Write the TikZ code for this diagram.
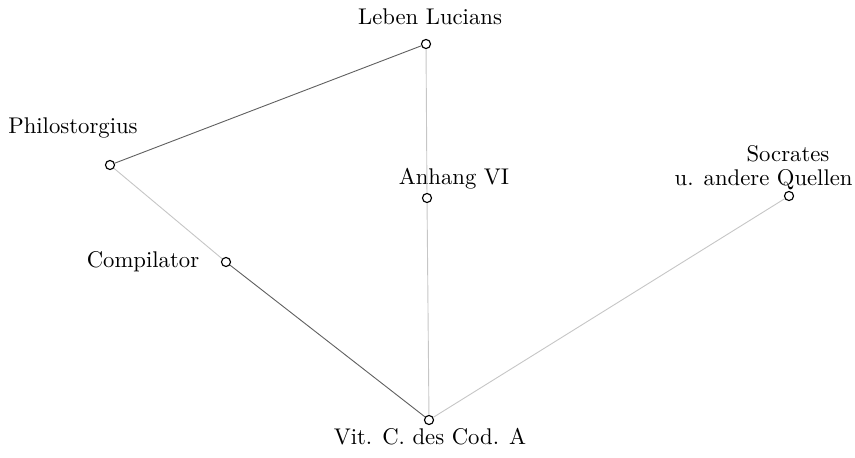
\documentclass[tikz,border=0pt]{standalone}
\usetikzlibrary{positioning}
\begin{document}
\begin{tikzpicture}[
  x=0.4406pt, y=-0.4406pt,
  src/.style={circle, draw, inner sep=0pt, minimum size=4pt, line width=0.5pt},
  lbl/.style={inner sep=0pt, font=\normalsize},
  link/.style={gray!75!black, line width=0.4pt},
  faint/.style={gray!45, line width=0.4pt}
]
\useasboundingbox (0,0) rectangle (855,457);

% sources
\node[src] (leben)  at (426,44)  {};
\node[src] (philo)  at (110,165) {};
\node[src] (anhang) at (427,198) {};
\node[src] (socr)   at (789,196) {};
\node[src] (comp)   at (226,262) {};
\node[src] (vit)    at (429,420) {};

% names
\node[lbl] (lebenLbl)  at (430,17)  {Leben Lucians};
\node[lbl] (philoLbl)  at (73,128)  {Philostorgius};
\node[lbl] (anhangLbl) at (454,179) {Anhang VI};
\node[lbl] (socrLbl)   at (788,154) {Socrates};
\node[lbl, anchor=east] (quellLbl) at (853,180) {u. andere Quellen};
\node[lbl] (compLbl)   at (143,262) {Compilator};
\node[lbl] (vitLbl)    at (430,437) {Vit. C. des Cod. A};

% lines
\draw[link]  (leben) -- (philo);
\draw[faint] (leben) -- (anhang);
\draw[faint] (anhang) -- (vit);
\draw[faint] (philo) -- (comp);
\draw[link]  (comp) -- (vit);
\draw[faint] (socr) -- (vit);

\end{tikzpicture}
\end{document}
